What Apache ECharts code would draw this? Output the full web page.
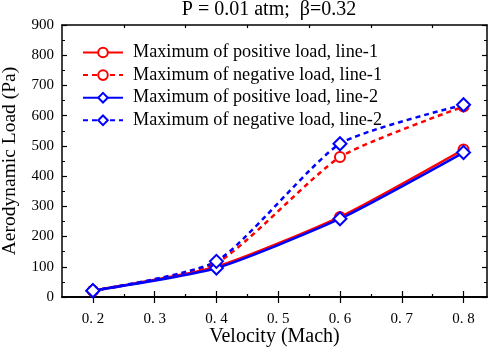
<!DOCTYPE html>
<html>
<head>
<meta charset="utf-8">
<script src="https://cdn.jsdelivr.net/npm/echarts@6/dist/echarts.min.js"></script>
<style>
  html, body { margin: 0; padding: 0; background: #fff; }
  #chart { width: 498px; height: 347px; }
</style>
</head>
<body>
<div id="chart"></div>
<script>
// velocity (Mach)
const velocity = [0.2, 0.4, 0.6, 0.8]
const posLine1 = [21, 100, 265, 488]
const negLine1 = [21, 112, 463, 630]
const posLine2 = [21, 96, 259, 478]
const negLine2 = [21, 118, 507, 636]
const majorX = [0.2, 0.3, 0.4, 0.5, 0.6, 0.7, 0.8]
const minorX = [0.25, 0.35, 0.45, 0.55, 0.65, 0.75]

const font = '"Liberation Serif", "DejaVu Serif", serif'
const RED = '#ff0000'
const BLUE = '#0000ff'

function pairs(vals) {
  return velocity.map((v, i) => [v, vals[i]])
}

function mkX(pos, ticks, len, labels) {
  return {
    type: 'value', position: pos, min: 0.15, max: 0.838,
    axisLine: { show: true, lineStyle: { color: '#000', width: 1.5 } },
    axisTick: { show: true, inside: true, length: len, customValues: ticks, lineStyle: { color: '#000', width: 1.2 } },
    axisLabel: labels ? {
      show: true, customValues: majorX, color: '#000', fontFamily: font, fontSize: 15, margin: 15,
      formatter: v => v.toFixed(1).replace('.', '. ')
    } : { show: false },
    splitLine: { show: false }
  }
}

function mkY(pos, labels) {
  return {
    type: 'value', position: pos, min: 0, max: 900, interval: 100,
    axisLine: { show: true, lineStyle: { color: '#000', width: 1.5 } },
    axisTick: { show: true, inside: true, length: 5, lineStyle: { color: '#000', width: 1.2 } },
    minorTick: { show: true, splitNumber: 2, length: 3, lineStyle: { color: '#000', width: 1 } },
    axisLabel: labels ? { show: true, color: '#000', fontFamily: font, fontSize: 15, margin: 8 } : { show: false },
    splitLine: { show: false },
    minorSplitLine: { show: false }
  }
}

function mkSeries(name, vals, color, dashed, symbol, size) {
  return {
    name: name, type: 'line', data: pairs(vals), smooth: 0.2,
    symbol: symbol, symbolSize: size,
    lineStyle: { color: color, width: 2.5, type: dashed ? [5, 4] : 'solid' },
    itemStyle: { color: color, borderColor: color, borderWidth: 1 }
  }
}

const chart = echarts.init(document.getElementById('chart'))
chart.setOption({
  animation: false,
  backgroundColor: '#fff',
  title: {
    text: 'P = 0.01 atm;  β=0.32', left: 269, top: 0, padding: 0, textAlign: 'center',
    textStyle: { fontFamily: font, fontSize: 20, fontWeight: 'normal', color: '#000' }
  },
  grid: { left: 62, right: 11, top: 25, bottom: 50, containLabel: false, outerBoundsMode: 'none' },
  legend: {
    orient: 'vertical', left: 77, top: 38, itemWidth: 40, itemHeight: 12, itemGap: 3.6,
    textStyle: { fontFamily: font, fontSize: 18.2, lineHeight: 19, color: '#000', padding: [0, 0, 0, 5] },
    data: [
      'Maximum of positive load, line-1',
      'Maximum of negative load, line-1',
      'Maximum of positive load, line-2',
      'Maximum of negative load, line-2'
    ]
  },
  xAxis: [
    Object.assign(mkX('bottom', majorX, 6, true), {
      name: 'Velocity (Mach)', nameLocation: 'middle', nameGap: 30, nameMoveOverlap: false,
      nameTextStyle: { fontFamily: font, fontSize: 20, color: '#000' }
    }),
    mkX('top', majorX, 6, false),
    mkX('bottom', minorX, 3, false),
    mkX('top', minorX, 3, false)
  ],
  yAxis: [
    Object.assign(mkY('left', true), {
      name: 'Aerodynamic Load (Pa)', nameLocation: 'middle', nameGap: 42, nameMoveOverlap: false,
      nameTextStyle: { fontFamily: font, fontSize: 19.5, color: '#000' }
    }),
    mkY('right', false)
  ],
  series: [
    mkSeries('Maximum of positive load, line-1', posLine1, RED, false, 'emptyCircle', 10),
    mkSeries('Maximum of negative load, line-1', negLine1, RED, true, 'emptyCircle', 10),
    mkSeries('Maximum of positive load, line-2', posLine2, BLUE, false, 'emptyDiamond', 13),
    mkSeries('Maximum of negative load, line-2', negLine2, BLUE, true, 'emptyDiamond', 13)
  ]
})
</script>
</body>
</html>
